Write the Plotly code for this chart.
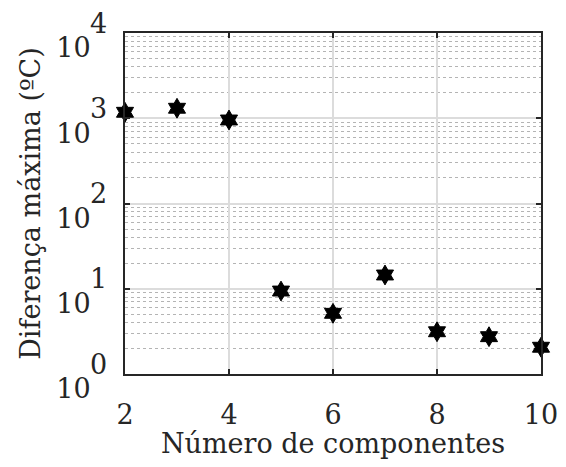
import math
import plotly.graph_objects as go

componentes = [2, 3, 4, 5, 6, 7, 8, 9, 10]
diferenca_maxima = [1175, 1310, 954, 9.4, 5.15, 14.5, 3.13, 2.74, 2.06]

x_ticks = [2, 4, 6, 8, 10]
y_tick_vals = [1, 10, 100, 1000, 10000]
y_tick_exps = ["0", "1", "2", "3", "4"]
y_minor_vals = [k * 10 ** d for d in range(4) for k in range(2, 10)]

FONT = "DejaVu Serif"
FS = 27
TXT = "#262626"

fig = go.Figure()
fig.add_trace(go.Scatter(
    x=componentes, y=diferenca_maxima, mode="markers",
    marker=dict(symbol="hexagram", size=15, color="black",
                line=dict(color="black", width=1)),
    cliponaxis=False, showlegend=False,
))

# exponents of the y tick labels, drawn full size like the reference
for v, e in zip(y_tick_vals, y_tick_exps):
    fig.add_annotation(
        x=0, xref="paper", y=math.log10(v), yref="y",
        text=e, showarrow=False, xanchor="right", yanchor="middle",
        xshift=-16, yshift=10, font=dict(family=FONT, size=FS, color=TXT),
    )

fig.update_layout(
    width=550, height=451,
    margin=dict(l=117, r=17, t=25, b=85),
    paper_bgcolor="white", plot_bgcolor="white",
    font=dict(family=FONT, size=FS, color=TXT),
    xaxis=dict(
        range=[2, 10], tickvals=x_ticks, ticktext=[str(v) for v in x_ticks],
        showgrid=True, gridcolor="#dcdcdc", gridwidth=2,
        showline=True, linecolor=TXT, linewidth=2, mirror="ticks",
        ticks="inside", ticklen=5, tickwidth=2, tickcolor=TXT,
        zeroline=False, ticklabelstandoff=16, ticklabeloverflow="allow",
        automargin=False,
        title=dict(text="Número de componentes", standoff=10,
                   font=dict(family=FONT, size=FS)),
    ),
    yaxis=dict(
        type="log", range=[0, 4], tickvals=y_tick_vals,
        ticktext=["10"] * len(y_tick_vals),
        showgrid=True, gridcolor="#dcdcdc", gridwidth=2,
        showline=True, linecolor=TXT, linewidth=2, mirror="ticks",
        ticks="inside", ticklen=5, tickwidth=2, tickcolor=TXT,
        zeroline=False, ticklabelshift=15, ticklabelstandoff=27,
        ticklabeloverflow="allow", automargin=False,
        minor=dict(tickvals=y_minor_vals, showgrid=True, gridcolor="#b4b4b4",
                   griddash="dot", gridwidth=1, ticks=""),
        title=dict(text="Diferença máxima (ºC)", standoff=8,
                   font=dict(family=FONT, size=FS)),
    ),
)

fig.write_html("out.html")
